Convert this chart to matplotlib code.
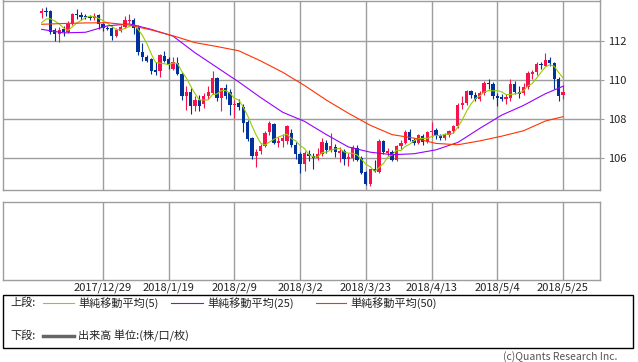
import matplotlib
matplotlib.use('Agg')
import matplotlib.pyplot as plt
import numpy as np
import pandas as pd
from matplotlib.lines import Line2D
from matplotlib.patches import Rectangle

plt.rcParams['font.family'] = ['Noto Sans CJK JP', 'DejaVu Sans']

# daily USD/JPY candles, 2017/12/11 - 2018/5/25 (weekdays)
dates = pd.bdate_range('2017-12-11', '2018-05-25')

opens = [113.45, 113.55, 113.52, 112.55, 112.35, 112.62, 112.45, 112.85, 113.40, 113.32,
         113.27, 113.23, 113.18, 113.33, 112.86, 112.68, 112.66, 112.27, 112.52, 112.70,
         113.05, 113.10, 112.68, 111.44, 111.20, 111.08, 110.50, 110.45, 111.25, 111.08,
         110.55, 110.86, 110.32, 109.18, 109.40, 108.67, 109.00, 108.75, 109.18, 109.36,
         110.09, 109.06, 109.57, 109.40, 108.70, 108.80, 108.60, 107.86, 107.04, 106.10,
         106.34, 106.62, 107.32, 107.76, 106.78, 106.88, 106.88, 107.30, 106.68, 106.20,
         105.68, 106.22, 106.10, 106.02, 106.20, 106.78, 106.40, 106.58, 106.28, 106.38,
         105.95, 106.02, 106.52, 105.98, 105.30, 104.65, 105.42, 105.30, 106.85, 106.28,
         106.30, 105.90, 106.62, 106.78, 107.35, 106.95, 106.78, 107.15, 106.80, 107.32,
         107.45, 107.12, 107.02, 107.20, 107.38, 107.64, 108.70, 108.84, 109.42, 109.25,
         109.05, 109.35, 109.85, 109.80, 109.20, 109.12, 109.05, 109.10, 109.78, 109.38,
         109.35, 109.65, 110.30, 110.40, 110.82, 110.72, 111.05, 110.88, 110.05, 109.22]
highs = [113.70, 113.75, 113.60, 112.65, 112.70, 112.75, 113.05, 113.45, 113.65, 113.50,
         113.38, 113.35, 113.45, 113.40, 112.95, 112.75, 112.75, 112.65, 112.80, 113.30,
         113.40, 113.18, 112.80, 111.88, 111.30, 111.12, 110.90, 111.32, 111.50, 111.20,
         111.20, 111.20, 110.40, 109.70, 109.60, 109.20, 109.25, 109.35, 109.70, 110.46,
         110.15, 109.60, 109.80, 109.55, 109.00, 109.05, 108.75, 107.95, 107.10, 106.45,
         106.70, 107.40, 107.90, 107.80, 107.10, 107.25, 107.68, 107.50, 106.80, 106.30,
         106.35, 106.40, 106.25, 106.50, 107.05, 106.95, 107.30, 106.70, 106.55, 106.45,
         106.25, 106.65, 106.65, 106.10, 105.35, 105.45, 105.88, 107.00, 106.95, 106.50,
         106.40, 106.65, 106.90, 107.45, 107.50, 107.05, 107.25, 107.22, 107.40, 107.85,
         107.55, 107.25, 107.30, 107.45, 107.70, 108.80, 109.20, 109.48, 109.50, 109.40,
         109.45, 109.95, 110.05, 109.90, 109.35, 109.30, 109.30, 110.05, 109.95, 109.70,
         109.85, 110.45, 110.50, 110.90, 110.95, 111.40, 111.20, 110.95, 110.15, 109.75]
lows = [113.20, 113.30, 112.35, 112.00, 111.95, 112.25, 112.40, 112.80, 113.15, 113.10,
        113.15, 113.10, 113.10, 112.62, 112.50, 112.55, 112.05, 112.20, 112.45, 112.65,
        112.92, 112.35, 111.27, 110.96, 110.90, 110.30, 110.25, 110.18, 110.95, 110.55,
        110.50, 110.25, 108.96, 108.45, 108.24, 108.40, 108.40, 108.55, 109.05, 109.30,
        108.95, 108.40, 109.05, 108.20, 108.04, 108.45, 107.35, 106.85, 105.95, 105.52,
        106.20, 106.55, 107.20, 106.72, 106.55, 106.55, 106.70, 106.55, 105.95, 105.24,
        105.35, 105.85, 105.45, 105.90, 106.10, 106.25, 106.30, 106.05, 105.80, 105.65,
        105.60, 105.85, 105.85, 105.18, 104.60, 104.56, 105.30, 105.25, 106.20, 106.10,
        105.85, 105.85, 106.45, 106.70, 106.85, 106.65, 106.70, 106.65, 106.75, 107.10,
        107.00, 106.95, 106.95, 107.10, 107.30, 107.55, 108.50, 108.70, 109.10, 108.95,
        108.90, 109.25, 109.55, 109.05, 108.65, 108.90, 108.75, 108.95, 109.30, 109.10,
        109.25, 109.55, 110.05, 110.25, 110.55, 110.70, 110.72, 109.55, 108.95, 109.05]
closes = [113.55, 113.48, 112.45, 112.35, 112.58, 112.48, 112.85, 113.40, 113.32, 113.25,
          113.22, 113.18, 113.30, 112.86, 112.66, 112.62, 112.27, 112.55, 112.73, 113.07,
          113.10, 112.68, 111.42, 111.17, 111.00, 110.48, 110.42, 111.28, 111.00, 110.78,
          110.90, 110.30, 109.18, 109.40, 108.67, 108.96, 108.68, 109.20, 109.38, 110.09,
          109.06, 109.57, 109.20, 108.70, 108.78, 108.60, 107.80, 107.00, 106.08, 106.32,
          106.62, 107.30, 107.78, 106.78, 106.88, 107.05, 107.62, 106.65, 106.20, 105.70,
          106.25, 106.10, 106.02, 106.22, 106.80, 106.40, 106.60, 106.30, 106.35, 105.95,
          106.05, 106.55, 105.88, 105.25, 104.68, 105.42, 105.32, 106.87, 106.30, 106.35,
          105.90, 106.60, 106.78, 107.35, 106.92, 106.78, 107.18, 106.80, 107.35, 107.40,
          107.12, 107.02, 107.20, 107.38, 107.65, 108.72, 108.82, 109.42, 109.25, 109.05,
          109.35, 109.85, 109.78, 109.20, 109.10, 109.05, 109.15, 109.78, 109.38, 109.30,
          109.65, 110.38, 110.40, 110.80, 110.76, 111.05, 110.88, 110.05, 109.20, 109.40]
# last four closes before the first candle (for the 5-day average)
prior_closes = [112.55, 112.35, 112.95, 113.30]

# 25 / 50 day averages every 5 sessions
ma_idx = [0, 5, 10, 15, 20, 25, 30, 35, 40, 45, 50, 55, 60, 65, 70, 75, 80, 85, 90, 95,
          100, 105, 110, 115, 119]
ma25 = [112.60, 112.42, 112.45, 112.78, 112.88, 112.60, 112.25, 111.40, 110.65, 109.90,
        109.10, 108.35, 107.88, 107.20, 106.57, 106.30, 106.17, 106.22, 106.42, 106.80,
        107.52, 108.20, 108.70, 109.30, 109.68]
ma50 = [112.86, 112.90, 112.93, 112.94, 112.82, 112.57, 112.27, 111.92, 111.72, 111.50,
        110.98, 110.40, 109.72, 108.97, 108.30, 107.68, 107.20, 107.02, 106.75, 106.68,
        106.88, 107.12, 107.40, 107.90, 108.12]

tick_labels = ['2017/12/29', '2018/1/19', '2018/2/9', '2018/3/2', '2018/3/23',
               '2018/4/13', '2018/5/4', '2018/5/25']
y_ticks = [106, 108, 110, 112]

UP = '#f5124d'
DOWN = '#003399'
GRID = '#9e9e9e'
W, H = 638, 362

def fx(p):
    return p / W

def fy(p):
    return 1 - p / H

date_str = [f'{d.year}/{d.month}/{d.day}' for d in dates]
tick_pos = [date_str.index(t) for t in tick_labels]
idx = np.arange(len(closes))
o = np.array(opens); c = np.array(closes)
ma5 = pd.Series(prior_closes + closes).rolling(5).mean().values[len(prior_closes):]

fig = plt.figure(figsize=(W / 100, H / 100), dpi=100)
ax1 = fig.add_axes([fx(3), fy(190), fx(600) - fx(3), fy(0.5) - fy(190)])
ax2 = fig.add_axes([fx(3), fy(280), fx(600) - fx(3), fy(201.5) - fy(280)])

xlim = (-8.83, 127.45)
for ax in (ax1, ax2):
    ax.set_xlim(*xlim)
    ax.set_xticks(tick_pos)
    ax.grid(True, color=GRID, lw=1)
    ax.set_axisbelow(True)
    for s in ax.spines.values():
        s.set_color(GRID)
        s.set_linewidth(1)

# candles
colors = [UP if cc >= oo else DOWN for oo, cc in zip(o, c)]
ax1.vlines(idx, lows, highs, colors=colors, lw=0.8, zorder=2)
body = np.maximum(np.abs(c - o), 0.05)
ax1.bar(idx, body, bottom=np.minimum(o, c), width=0.75, color=colors, lw=0, zorder=2)

ax1.plot(idx, ma5, color='#99cc00', lw=0.8, zorder=3)
ax1.plot(ma_idx, ma25, color='#9900ff', lw=0.8, zorder=3)
ax1.plot(ma_idx, ma50, color='#ff3300', lw=0.8, zorder=3)

ax1.set_ylim(104.36, 114.08)
ax1.set_yticks(y_ticks)
ax1.yaxis.tick_right()
ax1.tick_params(axis='y', length=3, color=GRID, pad=3, labelsize=8, labelcolor='#222222')
ax1.tick_params(axis='x', length=0, labelbottom=False)

ax2.set_ylim(0, 1)
ax2.set_yticks([])
ax2.tick_params(axis='x', length=0, pad=2, labelsize=8, labelcolor='#222222')
ax2.set_xticklabels(tick_labels)

# legend box
fig.add_artist(Rectangle((fx(3), fy(348)), fx(633) - fx(3), fy(295) - fy(348),
                         transform=fig.transFigure, fill=False, ec='black', lw=1))
row1, row2 = 303, 336
fig.text(fx(10), fy(row1), '上段:', fontsize=8, va='center', color='#222222')
fig.text(fx(10), fy(row2), '下段:', fontsize=8, va='center', color='#222222')
for x0, x1, col, lab in [(43, 74, '#99cc00', '単純移動平均(5)'),
                         (171, 203, '#9900ff', '単純移動平均(25)'),
                         (316, 346, '#ff3300', '単純移動平均(50)')]:
    fig.add_artist(Line2D([fx(x0), fx(x1)], [fy(row1), fy(row1)], color=col, lw=0.8,
                          transform=fig.transFigure))
    fig.text(fx(x1 + 4), fy(row1), lab, fontsize=8, va='center', color='#222222')
fig.add_artist(Line2D([fx(43), fx(74)], [fy(row2), fy(row2)], color='#666666', lw=2.5,
                      transform=fig.transFigure))
fig.text(fx(78), fy(row2), '出来高 単位:(株/口/枚)', fontsize=8, va='center', color='#222222')

fig.text(fx(617), fy(357), '(c)Quants Research Inc.', fontsize=7.5, va='center', ha='right',
         color='#555555')

fig.savefig('out.png', dpi=100)
